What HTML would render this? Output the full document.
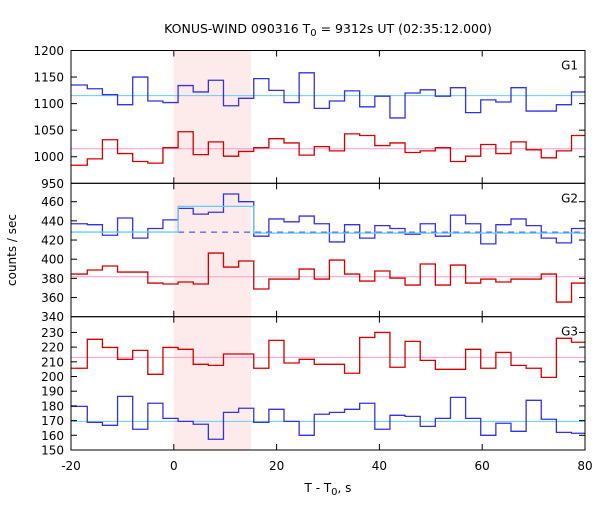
<!DOCTYPE html>
<html><head><meta charset="utf-8"><style>
html,body{margin:0;padding:0;background:#fff;}
svg text{font-family:"DejaVu Sans","Liberation Sans",sans-serif;fill:#000;}
</style></head><body>
<svg id="chart" width="600" height="500" xmlns="http://www.w3.org/2000/svg">
<rect width="600" height="500" fill="#fff"/>
<g id="shade"></g>
<g id="marks"></g>
<g id="axes"></g>
<text x="328" y="33" font-size="12.5" text-anchor="middle">KONUS-WIND 090316 T<tspan font-size="10" dy="3">0</tspan><tspan dy="-3"> = 9312s UT (02:35:12.000)</tspan></text>
<text transform="translate(16,250) rotate(-90)" font-size="12" text-anchor="middle">counts / sec</text>
<text x="328" y="492" font-size="12" text-anchor="middle">T - T<tspan font-size="10" dy="3">0</tspan><tspan dy="-3">, s</tspan></text>
</svg>
<script>
// bin edges (s)
const binStart = -16.83;
const binWidth = 2.944;
const shadeRange = [0, 15];
const xTicks = [-20, 0, 20, 40, 60, 80];
// G1
const g1Blue = [1135,1128,1117,1098,1150,1105,1102,1134,1122,1144,1096,1110,1147,1125,1102,1158,1091,1105,1124,1094,1114,1073,1120,1126,1114,1130,1083,1107,1103,1130,1086,1086,1098,1122];
const g1Red = [984,996,1032,1006,991,988,1017,1047,1004,1028,1001,1010,1017,1034,1026,1003,1019,1011,1043,1040,1021,1026,1008,1011,1017,991,1001,1023,1006,1028,1013,998,1011,1040];
const g1BlueMean = 1115;
const g1RedMean = 1015;
const g1Ticks = [950,1000,1050,1100,1150,1200];
// G2
const g2Blue = [437,436,425,443,422,432,441,453,447,449,468,460,424,442,439,445,437,418,436,422,435,432,426,437,424,446,437,416,436,442,435,422,417,432];
const g2Red = [384.5,388.7,392.9,386.6,386.6,375.1,374.1,376.2,374.1,406.4,391.8,398.1,368.9,379.3,379.3,389.7,379.3,399.1,384.5,377.2,387.7,380.3,373,395,373,393.9,375.1,379.3,376.2,379.3,379.3,384.5,355.3,375.1];
const g2BlueMeanPre = 428.3;
const g2BlueMeanBurst = 455.1;
const g2BlueMeanPost = 427.3;
const g2BlueDash = 428.3;
const g2RedMean = 381.7;
const g2Ticks = [340,360,380,400,420,440,460];
// G3
const g3Red = [205.6,225.3,219.8,211.7,217.8,201.5,219.8,218.5,208.3,207.6,215.3,215.3,205.6,224.6,209.2,211.7,208.3,208.3,202.2,226.6,230,206.3,223.9,211,204.9,204.9,218.5,205.6,216.4,207.6,205.6,199.4,226,223.3];
const g3Blue = [179.7,168.8,166.8,186.5,164.1,181.8,171.5,169.5,167.5,157.3,175.6,178.4,168.8,177.7,169.5,160,174.3,175.6,177.7,181.8,164.1,173.6,172.9,166.1,171.5,185.8,171.5,160,168.2,162.7,183.8,170.9,162,161.4];
const g3RedMean = 213;
const g3BlueMean = 169.5;
const g3Ticks = [150,160,170,180,190,200,210,220,230];

const NS='http://www.w3.org/2000/svg';
const X0=71, X1=585;
function xs(t){return X0+(t+20)/100*(X1-X0);}
const panels=[
 {name:'g1',top:50.5,bot:183.3,vmin:950,vmax:1200,ticks:g1Ticks,label:'G1'},
 {name:'g2',top:183.3,bot:316.7,vmin:340,vmax:479.2,ticks:g2Ticks,label:'G2'},
 {name:'g3',top:316.7,bot:450,vmin:150,vmax:240.7,ticks:g3Ticks,label:'G3'}
];
panels.forEach(p=>{p.ys=v=>p.bot-(v-p.vmin)/(p.vmax-p.vmin)*(p.bot-p.top);});
function mk(tag,attrs,parent){const e=document.createElementNS(NS,tag);for(const k in attrs)e.setAttribute(k,attrs[k]);parent.appendChild(e);return e;}
function edge(i){if(i<=0)return -20;return Math.min(80,binStart+(i-1)*binWidth);}
const marks=document.getElementById('marks'), axes=document.getElementById('axes'), shade=document.getElementById('shade');
const sh=mk('rect',{x:xs(shadeRange[0]),y:50.5,width:xs(shadeRange[1])-xs(shadeRange[0]),height:399.5,fill:'#fdeaea'},shade);


function hline(p,v,t0,t1,color,name,dash){
 const l=mk('line',{x1:xs(t0),x2:xs(t1),y1:p.ys(v),y2:p.ys(v),stroke:color,'stroke-width':1},marks);
 if(dash)l.setAttribute('stroke-dasharray',dash);
 
 
}
function steps(p,vals,color,name){
 let d='';
 vals.forEach((v,i)=>{const a=xs(edge(i)),b=xs(edge(i+1)),y=p.ys(v);d+=(i===0?'M':'L')+a+' '+y+'L'+b+' '+y;});
 const e=mk('path',{d:d,fill:'none',stroke:color,'stroke-width':1.3},marks);
 
 
}
const P=panels;
hline(P[0],g1BlueMean,-20,80,'#66ccff','g1-blue-mean');
hline(P[0],g1RedMean,-20,80,'#ff99cc','g1-red-mean');
steps(P[0],g1Blue,'#3333dd','g1-blue-series');
steps(P[0],g1Red,'#d00000','g1-red-series');
hline(P[1],g2RedMean,-20,80,'#ff99cc','g2-red-mean');
steps(P[1],g2Blue,'#3333dd','g2-blue-series');
steps(P[1],g2Red,'#d00000','g2-red-series');
hline(P[1],g2BlueDash,edge(7),80,'#3333dd','g2-blue-dashed-mean','6,5');
{const e7=edge(7),e12=edge(12),p=P[1];
 const d='M'+xs(-20)+' '+p.ys(g2BlueMeanPre)+'L'+xs(e7)+' '+p.ys(g2BlueMeanPre)+'L'+xs(e7)+' '+p.ys(g2BlueMeanBurst)+'L'+xs(e12)+' '+p.ys(g2BlueMeanBurst)+'L'+xs(e12)+' '+p.ys(g2BlueMeanPost)+'L'+xs(80)+' '+p.ys(g2BlueMeanPost);
 const e=mk('path',{d:d,fill:'none',stroke:'#66ccff','stroke-width':1.3},marks);
 
 }
hline(P[2],g3RedMean,-20,80,'#ff99cc','g3-red-mean');
hline(P[2],g3BlueMean,-20,80,'#66ccff','g3-blue-mean');
steps(P[2],g3Red,'#d00000','g3-red-series');
steps(P[2],g3Blue,'#3333dd','g3-blue-series');
panels.forEach((p,pi)=>{
 const fr=mk('rect',{x:X0,y:p.top,width:X1-X0,height:p.bot-p.top,fill:'none',stroke:'#000','stroke-width':1},axes);
 
 
 p.ticks.forEach(v=>{
  const y=p.ys(v);
  if(v!==p.vmin||pi===2){
   mk('line',{x1:X0,x2:X0+6,y1:y,y2:y,stroke:'#000'},axes);
   mk('line',{x1:X1,x2:X1-6,y1:y,y2:y,stroke:'#000'},axes);
  }
  const t=mk('text',{x:X0-7,y:y+4.5,'font-size':12,'text-anchor':'end'},axes);
  t.textContent=v;
  
  
 });
 xTicks.forEach(v=>{const x=xs(v);
  mk('line',{x1:x,x2:x,y1:p.top,y2:p.top+6,stroke:'#000'},axes);
  mk('line',{x1:x,x2:x,y1:p.bot,y2:p.bot-6,stroke:'#000'},axes);});
 const l=mk('text',{x:578,y:p.top+19,'font-size':12,'text-anchor':'end'},axes);
 l.textContent=p.label;
 
 
});
xTicks.forEach(v=>{
 const t=mk('text',{x:xs(v),y:470,'font-size':12,'text-anchor':'middle'},axes);
 t.textContent=v;
 
 
});
</script>
</body></html>
